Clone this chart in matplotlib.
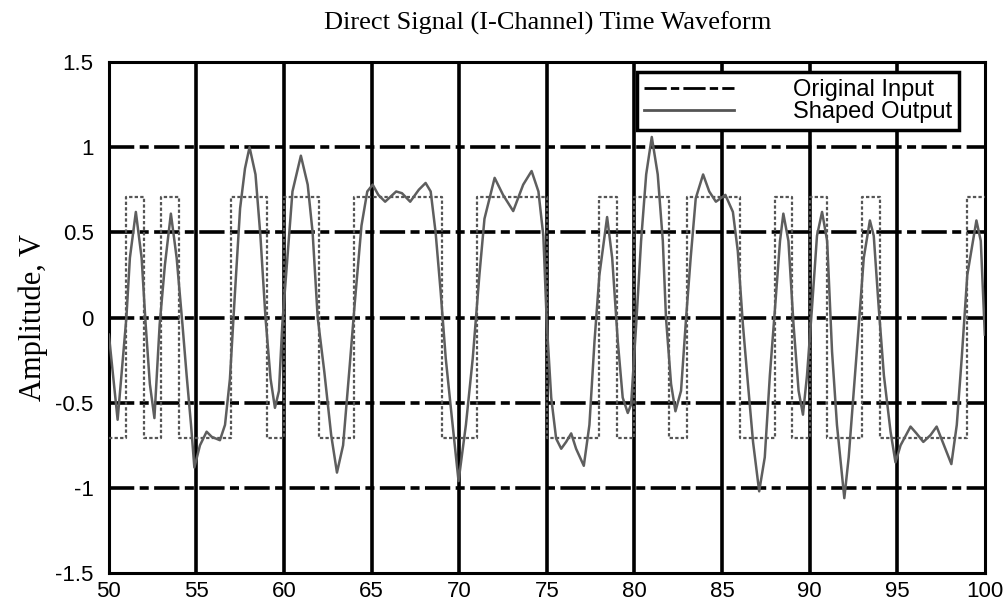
import numpy as np
import matplotlib.pyplot as plt
from matplotlib.lines import Line2D

# symbol levels of the original input, one per unit interval starting at t=50
symbols = [-1, 1, -1, 1, -1, -1, -1, 1, 1, -1,
           1, 1, -1, -1, 1, 1, 1, 1, 1, -1,
           -1, 1, 1, 1, 1, -1, -1, -1, 1, -1,
           1, 1, -1, 1, 1, 1, -1, -1, 1, -1,
           1, -1, -1, 1, -1, -1, -1, -1, -1, 1]
level = 0.707
t_start = 50

# shaped output
t_out = [50.0, 50.5, 51.0, 51.2, 51.54, 51.87, 52.1, 52.34, 52.6, 52.9,
         53.2, 53.54, 53.87, 54.2, 54.44, 54.69, 54.88, 55.2, 55.58, 55.87,
         56.34, 56.63, 56.91, 57.2, 57.49, 57.77, 58.03, 58.37, 58.65, 58.94,
         59.23, 59.48, 59.71, 59.9, 60.19, 60.48, 60.96, 61.35, 61.63, 61.92,
         62.3, 62.69, 63.02, 63.37, 63.75, 64.04, 64.42, 64.75, 65.06, 65.38,
         65.77, 66.4, 66.73, 67.2, 67.69, 68.08, 68.37, 68.65, 68.94, 69.23,
         69.52, 69.96, 70.38, 70.77, 71.15, 71.44, 72.02, 72.5, 73.08, 73.65,
         74.13, 74.52, 74.8, 75.0, 75.25, 75.53, 75.82, 76.1, 76.39, 76.67,
         77.11, 77.43, 77.72, 78.0, 78.44, 78.73, 79.05, 79.33, 79.62, 79.81,
         80.1, 80.38, 80.67, 80.99, 81.33, 81.62, 81.8, 82.09, 82.34, 82.66,
         82.95, 83.21, 83.5, 83.92, 84.27, 84.65, 85.19, 85.62, 85.9, 86.19,
         86.48, 86.77, 87.12, 87.44, 87.73, 88.02, 88.31, 88.5, 88.79, 89.08,
         89.37, 89.62, 89.85, 90.13, 90.42, 90.71, 91.0, 91.28, 91.56, 91.98,
         92.23, 92.52, 92.81, 93.09, 93.44, 93.66, 93.95, 94.24, 94.62, 94.9,
         95.19, 95.76, 96.1, 96.49, 96.9, 97.25, 97.67, 98.09, 98.4, 98.68,
         99.0, 99.52, 99.77, 100.0]
v_out = [-0.10, -0.60, 0.00, 0.35, 0.62, 0.35, -0.04, -0.39, -0.59, -0.04,
         0.31, 0.61, 0.35, -0.04, -0.34, -0.63, -0.88, -0.75, -0.67, -0.70,
         -0.72, -0.63, -0.36, 0.15, 0.64, 0.875, 1.00, 0.84, 0.48, 0.00,
         -0.36, -0.53, -0.43, -0.04, 0.35, 0.74, 0.95, 0.78, 0.50, 0.00,
         -0.32, -0.69, -0.91, -0.75, -0.28, 0.09, 0.54, 0.74, 0.78, 0.72,
         0.68, 0.74, 0.73, 0.68, 0.75, 0.79, 0.74, 0.50, 0.15, -0.24,
         -0.53, -0.96, -0.63, -0.24, 0.25, 0.58, 0.82, 0.72, 0.625, 0.78,
         0.86, 0.74, 0.48, -0.04, -0.47, -0.71, -0.77, -0.73, -0.68, -0.77,
         -0.87, -0.63, -0.14, 0.25, 0.59, 0.35, -0.14, -0.47, -0.56, -0.51,
         -0.04, 0.45, 0.84, 1.06, 0.84, 0.45, 0.00, -0.39, -0.55, -0.43,
         0.00, 0.35, 0.70, 0.84, 0.74, 0.68, 0.72, 0.62, 0.39, -0.04,
         -0.39, -0.73, -1.02, -0.82, -0.34, 0.05, 0.45, 0.61, 0.45, -0.04,
         -0.43, -0.57, -0.34, 0.05, 0.48, 0.62, 0.45, -0.20, -0.63, -1.06,
         -0.82, -0.43, -0.04, 0.35, 0.57, 0.48, 0.05, -0.34, -0.67, -0.85,
         -0.75, -0.64, -0.68, -0.73, -0.69, -0.64, -0.75, -0.86, -0.63, -0.24,
         0.25, 0.57, 0.45, -0.10]

# square wave from the symbol list
t_in = np.arange(t_start, t_start + len(symbols) + 1)
v_in = np.array(symbols + [symbols[-1]]) * level

fig = plt.figure(figsize=(10.08, 6.02), dpi=100)
ax = fig.add_axes([0.108, 0.048, 0.869, 0.849])

ax.step(t_in, v_in, where='post', color='#555555', lw=1.6,
        linestyle=(0, (1.5, 1.0)), zorder=3)
ax.plot(t_out, v_out, color='#5e5e5e', lw=1.8, zorder=4)

ax.set_xlim(50, 100)
ax.set_ylim(-1.5, 1.5)
ax.set_xticks(np.arange(50, 101, 5))
ax.set_yticks([-1.5, -1, -0.5, 0, 0.5, 1, 1.5])
ax.set_yticklabels(['-1.5', '-1', '-0.5', '0', '0.5', '1', '1.5'])
ax.tick_params(length=0, labelsize=16)
ax.tick_params(axis='y', pad=11)
ax.tick_params(axis='x', pad=6)
for lab in ax.get_xticklabels() + ax.get_yticklabels():
    lab.set_family('Liberation Sans')

# grid: solid verticals, dash-dot horizontals
for x in np.arange(55, 100, 5):
    ax.axvline(x, color='black', lw=2.6, zorder=2)
for y in [-1, -0.5, 0, 0.5, 1]:
    ax.axhline(y, color='black', lw=2.6, dashes=(7, 1.5, 2.5, 1.5), zorder=2)

for sp in ax.spines.values():
    sp.set_linewidth(2.2)

ax.set_ylabel('Amplitude, V', family='Liberation Serif', fontsize=22)
ax.yaxis.set_label_coords(-0.07, 0.5)
fig.text(0.543, 0.962, 'Direct Signal (I-Channel) Time Waveform',
         family='Liberation Serif', fontsize=19, ha='center', va='center')

handles = [Line2D([], [], color='black', lw=2, dashes=(8, 1.5, 3, 1.5)),
           Line2D([], [], color='#555555', lw=2)]
leg = ax.legend(handles, ['Original Input', 'Shaped Output'],
                loc='upper right', bbox_to_anchor=(0.971, 0.980),
                prop={'family': 'Liberation Sans', 'size': 17},
                frameon=True, fancybox=False, framealpha=1,
                edgecolor='black', handlelength=3.8, handletextpad=2.5,
                borderpad=0.3, labelspacing=0.0, borderaxespad=0)
leg.get_frame().set_linewidth(2.5)
leg.set_zorder(10)

plt.savefig('out.png', dpi=100)
